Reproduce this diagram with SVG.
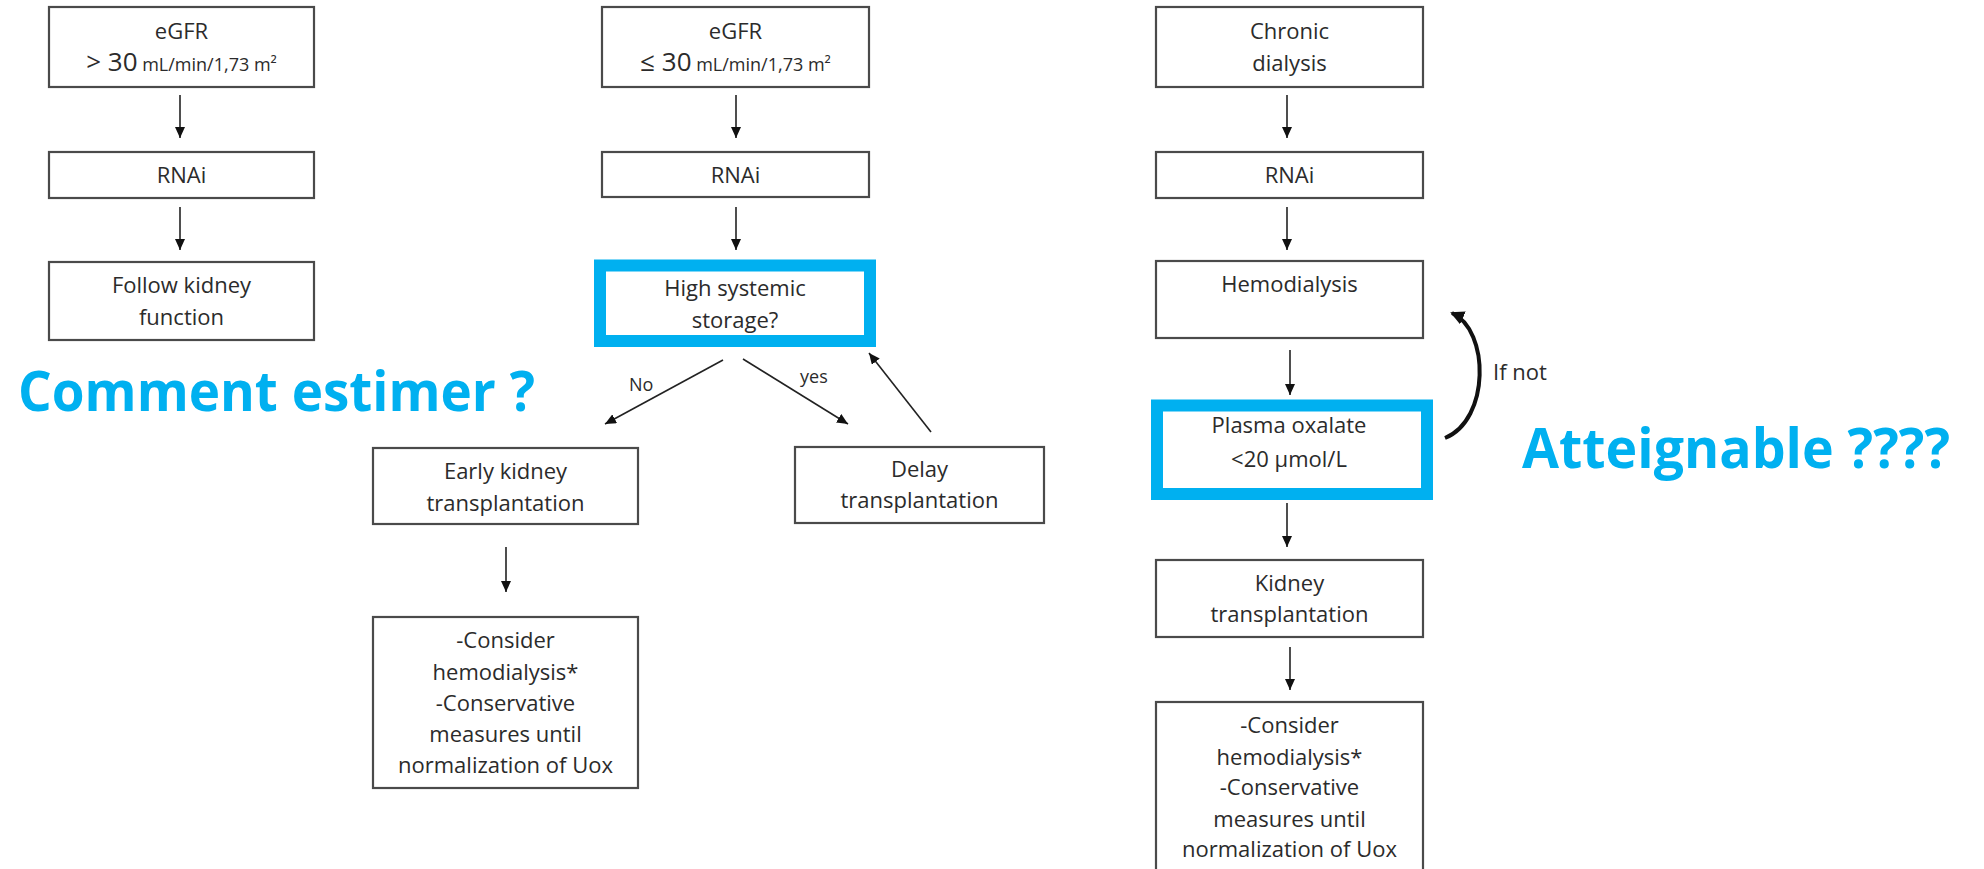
<svg xmlns="http://www.w3.org/2000/svg" width="1984" height="869" viewBox="0 0 1984 869">
<defs>
<style>
.box{fill:#fff;stroke:#4a4a4a;stroke-width:2.2}
.hl{fill:#fff;stroke:#00B0F0;stroke-width:12}
.t{font-family:"Open Sans","Liberation Sans",sans-serif;font-size:22px;fill:#2b2b2b;text-anchor:middle}
.lbl{font-family:"Open Sans","Liberation Sans",sans-serif;font-size:18px;fill:#2b2b2b}
.big{font-family:"Open Sans","Liberation Sans",sans-serif;font-size:56px;font-weight:bold;fill:#00B0F0}
.ln{stroke:#222;stroke-width:1.6;fill:none;marker-end:url(#ah)}
.cv{stroke:#111;stroke-width:4;fill:none;marker-end:url(#ah2)}
</style>
<marker id="ah" markerUnits="userSpaceOnUse" markerWidth="12" markerHeight="10" refX="11" refY="5" orient="auto">
<path d="M0,0 L11,5 L0,10 z" fill="#111"/>
</marker>
<marker id="ah2" markerUnits="userSpaceOnUse" markerWidth="16" markerHeight="14" refX="12" refY="7" orient="auto">
<path d="M0,0 L14,7 L0,14 z" fill="#111"/>
</marker>
</defs>
<rect width="1984" height="869" fill="#fff"/>

<g id="connectors">
<line class="ln" x1="180" y1="95" x2="180" y2="138"/>
<line class="ln" x1="180" y1="207" x2="180" y2="250"/>
<line class="ln" x1="736" y1="95" x2="736" y2="138"/>
<line class="ln" x1="736" y1="207" x2="736" y2="250"/>
<line class="ln" x1="723" y1="360" x2="605" y2="424"/>
<line class="ln" x1="743" y1="359" x2="848" y2="424"/>
<line class="ln" x1="931" y1="432" x2="869" y2="353"/>
<line class="ln" x1="506" y1="547" x2="506" y2="592"/>
<line class="ln" x1="1287" y1="95" x2="1287" y2="138"/>
<line class="ln" x1="1287" y1="207" x2="1287" y2="250"/>
<line class="ln" x1="1290" y1="350" x2="1290" y2="395"/>
<line class="ln" x1="1287" y1="503" x2="1287" y2="547"/>
<line class="ln" x1="1290" y1="647" x2="1290" y2="690"/>
<path class="cv" d="M1445,438 C1490,420 1490,330 1452,313"/>
<text class="lbl" x="629" y="391">No</text>
<text class="lbl" x="800" y="383">yes</text>
<text class="lbl" x="1493" y="380" style="font-size:22px">If not</text>
</g>

<g id="n-egfr-high">
<rect class="box" x="49" y="7" width="265" height="80"/>
<text class="t" x="181.5" y="39">eGFR</text>
<text class="t" x="181.5" y="71"><tspan style="font-size:26px">&gt; 30</tspan><tspan style="font-size:18px"> mL/min/1,73  m²</tspan></text>
</g>
<g id="n-rnai-1">
<rect class="box" x="49" y="152" width="265" height="46"/>
<text class="t" x="181.5" y="183">RNAi</text>
</g>
<g id="n-follow">
<rect class="box" x="49" y="262" width="265" height="78"/>
<text class="t" x="181.5" y="293">Follow kidney</text>
<text class="t" x="181.5" y="325">function</text>
</g>

<g id="n-egfr-low">
<rect class="box" x="602" y="7" width="267" height="80"/>
<text class="t" x="735.5" y="39">eGFR</text>
<text class="t" x="735.5" y="71"><tspan style="font-size:26px">≤ 30</tspan><tspan style="font-size:18px"> mL/min/1,73 m²</tspan></text>
</g>
<g id="n-rnai-2">
<rect class="box" x="602" y="152" width="267" height="45"/>
<text class="t" x="735.5" y="183">RNAi</text>
</g>
<g id="n-storage">
<rect class="hl" x="600" y="265.5" width="270" height="75.5"/>
<text class="t" x="735" y="296">High systemic</text>
<text class="t" x="735" y="328">storage?</text>
</g>
<g id="n-early">
<rect class="box" x="373" y="448" width="265" height="76"/>
<text class="t" x="505.5" y="479">Early kidney</text>
<text class="t" x="505.5" y="511">transplantation</text>
</g>
<g id="n-consider-1">
<rect class="box" x="373" y="617" width="265" height="171"/>
<text class="t" x="505.5" y="648">-Consider</text>
<text class="t" x="505.5" y="680">hemodialysis*</text>
<text class="t" x="505.5" y="711">-Conservative</text>
<text class="t" x="505.5" y="742">measures until</text>
<text class="t" x="505.5" y="773">normalization of Uox</text>
</g>
<g id="n-delay">
<rect class="box" x="795" y="447" width="249" height="76"/>
<text class="t" x="919.5" y="477">Delay</text>
<text class="t" x="919.5" y="508">transplantation</text>
</g>

<g id="n-chronic">
<rect class="box" x="1156" y="7" width="267" height="80"/>
<text class="t" x="1289.5" y="39">Chronic</text>
<text class="t" x="1289.5" y="71">dialysis</text>
</g>
<g id="n-rnai-3">
<rect class="box" x="1156" y="152" width="267" height="46"/>
<text class="t" x="1289.5" y="183">RNAi</text>
</g>
<g id="n-hemo">
<rect class="box" x="1156" y="261" width="267" height="77"/>
<text class="t" x="1289.5" y="292">Hemodialysis</text>
</g>
<g id="n-plasma">
<rect class="hl" x="1157" y="405.5" width="270" height="88.5"/>
<text class="t" x="1289" y="433">Plasma oxalate</text>
<text class="t" x="1289" y="467">&lt;20 µmol/L</text>
</g>
<g id="n-kidney">
<rect class="box" x="1156" y="560" width="267" height="77"/>
<text class="t" x="1289.5" y="591">Kidney</text>
<text class="t" x="1289.5" y="622">transplantation</text>
</g>
<g id="n-consider-2">
<rect class="box" x="1156" y="702" width="267" height="190"/>
<text class="t" x="1289.5" y="733">-Consider</text>
<text class="t" x="1289.5" y="765">hemodialysis*</text>
<text class="t" x="1289.5" y="795">-Conservative</text>
<text class="t" x="1289.5" y="827">measures until</text>
<text class="t" x="1289.5" y="857">normalization of Uox</text>
</g>

<g id="n-comment">
<text class="big" x="18" y="411" textLength="517" lengthAdjust="spacingAndGlyphs">Comment estimer ?</text>
</g>
<g id="n-atteignable">
<text class="big" x="1522" y="468" textLength="428" lengthAdjust="spacingAndGlyphs">Atteignable ????</text>
</g>
</svg>
